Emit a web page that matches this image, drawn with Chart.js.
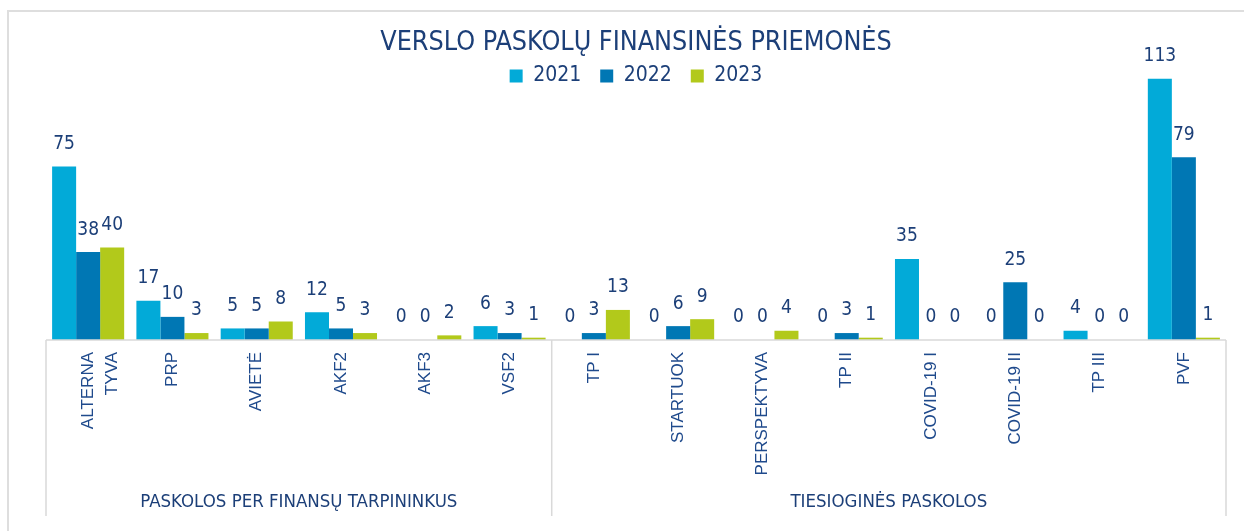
<!DOCTYPE html>
<html>
<head>
<meta charset="utf-8">
<script src="https://cdn.jsdelivr.net/npm/chart.js@4"></script>
<style>
  html, body { margin: 0; background: #fff; overflow: hidden; }
  #wrap { position: absolute; left: 0; top: 0; width: 1244px; height: 531px; }
</style>
</head>
<body>
<div id="wrap"><canvas id="chart"></canvas></div>
<script>
// data
const categories = [["ALTERNA", "TYVA"], "PRP", "AVIETĖ", "AKF2", "AKF3", "VSF2",
  "TP I", "STARTUOK", "PERSPEKTYVA", "TP II", "COVID-19 I", "COVID-19 II", "TP III", "PVF"];
const years = ["2021", "2022", "2023"];
const values2021 = [75, 17, 5, 12, 0, 6, 0, 0, 0, 0, 35, 0, 4, 113];
const values2022 = [38, 10, 5, 5, 0, 3, 3, 6, 0, 3, 0, 25, 0, 79];
const values2023 = [40, 3, 8, 3, 2, 1, 13, 9, 4, 1, 0, 0, 0, 1];
const groupLabels = ["PASKOLOS PER FINANSŲ TARPININKUS", "TIESIOGINĖS PASKOLOS"];
const groupSizes = [6, 8];

const colors = ["#02aad8", "#0077b4", "#b2c91b"];
const navy = "#1c3f78";
const narrow = "'DejaVu Sans Condensed', Roboto, sans-serif";
const sans = "'Liberation Sans', Arial, sans-serif";

// light frame of the card (top and left edge only)
const frame = {
  id: "frame",
  beforeDraw(chart) {
    const ctx = chart.ctx;
    ctx.save();
    ctx.fillStyle = "#fff";
    ctx.fillRect(0, 0, chart.width, chart.height);
    ctx.fillStyle = "#dedede";
    ctx.fillRect(7, 10, chart.width - 7, 2);
    ctx.fillRect(7, 10, 2, chart.height - 10);
    ctx.restore();
  }
};

// numbers above the bars
const valueLabels = {
  id: "valueLabels",
  afterDatasetsDraw(chart) {
    const ctx = chart.ctx;
    ctx.save();
    ctx.font = "19px " + narrow;
    ctx.fillStyle = navy;
    ctx.textAlign = "center";
    ctx.textBaseline = "bottom";
    chart.data.datasets.forEach((ds, i) => {
      chart.getDatasetMeta(i).data.forEach((bar, j) => {
        ctx.fillText(ds.data[j], bar.x, bar.y - 13);
      });
    });
    ctx.restore();
  }
};

// axis line, group separators and group names
const groups = {
  id: "groups",
  afterDraw(chart) {
    const ctx = chart.ctx;
    const x = chart.scales.x;
    const area = chart.chartArea;
    const bottom = 516;
    ctx.save();
    ctx.strokeStyle = "#d9d9d9";
    ctx.lineWidth = 1.5;
    ctx.beginPath();
    ctx.moveTo(area.left, area.bottom);
    ctx.lineTo(area.right, area.bottom);
    ctx.stroke();

    let start = 0;
    const edges = [area.left];
    groupSizes.forEach(n => {
      const end = start + n - 1;
      const right = end === categories.length - 1 ? area.right
        : (x.getPixelForValue(end) + x.getPixelForValue(end + 1)) / 2;
      edges.push(right);
      start += n;
    });
    edges.forEach(px => {
      ctx.beginPath();
      ctx.moveTo(px, area.bottom);
      ctx.lineTo(px, bottom);
      ctx.stroke();
    });

    ctx.font = "18.5px " + narrow;
    ctx.fillStyle = navy;
    ctx.textAlign = "center";
    ctx.textBaseline = "middle";
    groupLabels.forEach((g, i) => {
      ctx.fillText(g, (edges[i] + edges[i + 1]) / 2, 502);
    });
    ctx.restore();
  }
};

new Chart(document.getElementById("chart"), {
  type: "bar",
  data: {
    labels: categories,
    datasets: [
      { label: years[0], data: values2021, backgroundColor: colors[0] },
      { label: years[1], data: values2022, backgroundColor: colors[1] },
      { label: years[2], data: values2023, backgroundColor: colors[2] }
    ]
  },
  options: {
    responsive: true,
    maintainAspectRatio: false,
    animation: false,
    layout: { padding: { left: 46, right: 18, top: 0, bottom: 0 } },
    datasets: { bar: { categoryPercentage: 0.855, barPercentage: 1, clip: false } },
    plugins: {
      title: {
        display: true,
        text: "VERSLO PASKOLŲ FINANSINĖS PRIEMONĖS",
        color: navy,
        font: { family: narrow, size: 26.7, weight: "normal", lineHeight: 1.2 },
        padding: { top: 27.5, bottom: -13.1 }
      },
      legend: {
        position: "top",
        align: "center",
        labels: {
          color: navy,
          font: { family: narrow, size: 21 },
          boxWidth: 13,
          boxHeight: 13,
          padding: 19
        }
      },
      tooltip: { enabled: false }
    },
    scales: {
      x: {
        grid: { display: false },
        border: { display: false },
        ticks: {
          color: "#1f4a8c",
          font: { family: sans, size: 17, lineHeight: 1.4 },
          minRotation: 90,
          maxRotation: 90,
          autoSkip: false,
          padding: 4
        },
        afterFit(scale) { scale.height = 191; }
      },
      y: {
        display: false,
        min: 0,
        max: 105.3
      }
    }
  },
  plugins: [frame, valueLabels, groups]
});
</script>
</body>
</html>
